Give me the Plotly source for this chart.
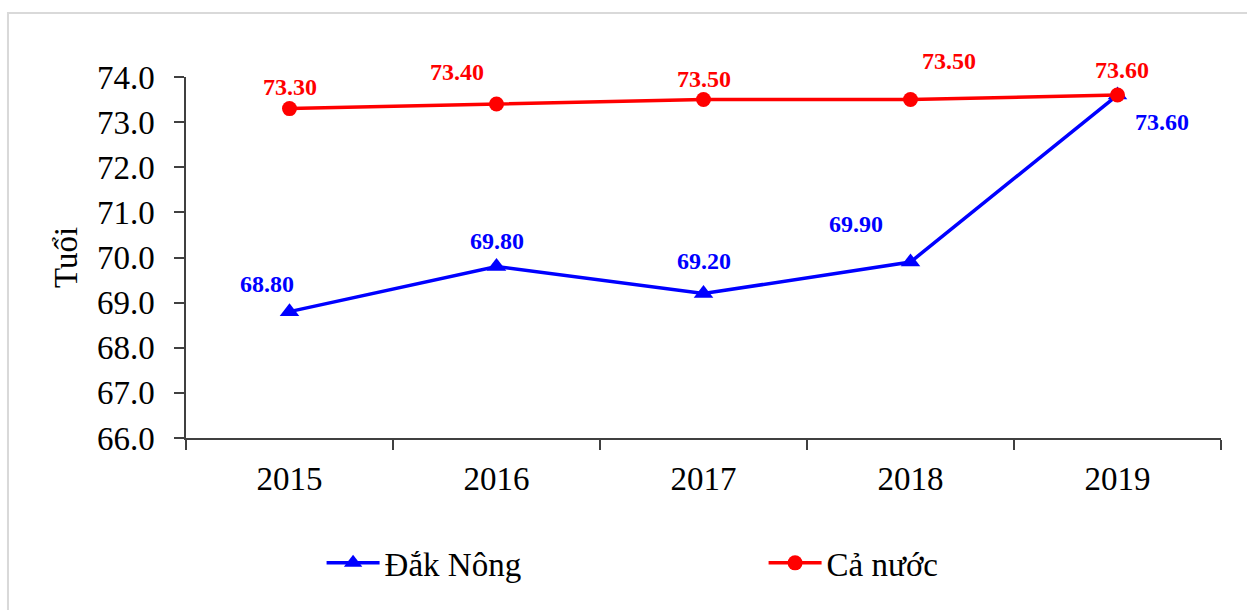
import plotly.graph_objects as go

# Tuổi thọ trung bình: Đắk Nông so với cả nước
years = ["2015", "2016", "2017", "2018", "2019"]
dak_nong = [68.8, 69.8, 69.2, 69.9, 73.6]
ca_nuoc = [73.3, 73.4, 73.5, 73.5, 73.6]
y_ticks = [66, 67, 68, 69, 70, 71, 72, 73, 74]

# pixel offsets of each value label from its marker (x, y-up)
dak_nong_label_shift = [(-23, 28), (0, 26), (0, 33), (-55, 38), (44, -27)]
ca_nuoc_label_shift = [(0, 22), (-40, 32), (0, 21), (38, 39), (4, 25)]

FONT = "Liberation Serif"
BLUE = "#0000FF"
RED = "#FF0000"

fig = go.Figure()
fig.add_trace(go.Scatter(
    x=years, y=dak_nong, name="Đắk Nông", mode="lines+markers",
    line=dict(color=BLUE, width=3.5),
    marker=dict(symbol="triangle-up", size=17, color=BLUE),
))
fig.add_trace(go.Scatter(
    x=years, y=ca_nuoc, name="Cả nước", mode="lines+markers",
    line=dict(color=RED, width=3.5),
    marker=dict(symbol="circle", size=15, color=RED),
))

annotations = []
for series, shifts, color in ((dak_nong, dak_nong_label_shift, BLUE),
                              (ca_nuoc, ca_nuoc_label_shift, RED)):
    # category index keeps numeric-looking year labels unambiguous
    for idx, (v, (dx, dy)) in enumerate(zip(series, shifts)):
        annotations.append(dict(
            x=idx, y=v, xref="x", yref="y", text=f"<b>{v:.2f}</b>",
            showarrow=False, xshift=dx, yshift=dy,
            font=dict(family=FONT, size=24, color=color),
        ))

fig.update_layout(
    width=1247, height=610,
    margin=dict(l=186, r=26, t=77, b=172, autoexpand=False),
    paper_bgcolor="white", plot_bgcolor="white",
    font=dict(family=FONT, size=33, color="black"),
    showlegend=True,
    legend=dict(
        orientation="h", x=0.131, xanchor="left", y=-0.346, yanchor="middle",
        font=dict(family=FONT, size=33, color="black"),
        itemwidth=53,
        entrywidth=374, entrywidthmode="pixels",
        bgcolor="rgba(0,0,0,0)",
    ),
    annotations=annotations,
    shapes=[dict(
        type="rect", xref="paper", yref="paper",
        x0=-0.172, x1=1.05, y0=-0.5, y1=1.177,
        line=dict(color="#D9D9D9", width=2), fillcolor="rgba(0,0,0,0)",
        layer="below",
    )],
)

fig.update_xaxes(
    type="category", range=[-0.5, 4.5], tickson="boundaries",
    showline=True, linecolor="#404040", linewidth=1.5,
    ticks="outside", ticklen=10, tickcolor="#404040", tickwidth=1.5,
    showgrid=False, zeroline=False, ticklabelstandoff=11,
    tickfont=dict(family=FONT, size=33, color="black"),
)
fig.update_yaxes(
    range=[66, 74], tickvals=y_ticks, tickformat=".1f",
    showline=True, linecolor="#404040", linewidth=1.5,
    ticks="outside", ticklen=10, tickcolor="#404040", tickwidth=1.5,
    showgrid=False, zeroline=False, ticklabelstandoff=13,
    tickfont=dict(family=FONT, size=33, color="black"),
    title=dict(text="Tuổi", standoff=9, font=dict(family=FONT, size=33, color="black")),
)

fig.write_html("out.html")
